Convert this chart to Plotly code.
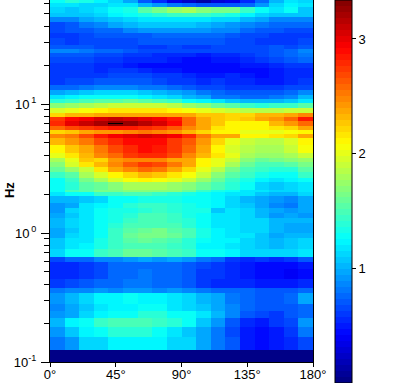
import plotly.graph_objects as go

angle_edges = list(range(0, 190, 10))
angle_ticks = [0, 45, 90, 135, 180]
angle_labels = ["0°", "45°", "90°", "135°", "180°"]
power_ticks = [1, 2, 3]
power_max = 3.34
freq_ticks = [0.1, 1, 10]
freq_labels = ["10<sup>-1</sup>", "10<sup>\u20090</sup>", "10<sup>\u20091</sup>"]
freq_minor = [0.2, 0.3, 0.4, 0.5, 0.6, 0.7, 0.8, 0.9, 2, 3, 4, 5, 6, 7, 8, 9, 20, 30, 40, 50, 60]

freq_edges = [0.1, 0.125, 0.156, 0.1875, 0.219, 0.25, 0.281, 0.344, 0.375, 0.44, 0.53, 0.60, 0.656,
              0.755, 0.841, 0.919, 1.005, 1.098, 1.2, 1.312, 1.434, 1.568, 1.714, 1.942, 2.085, 2.161,
              2.49, 2.68, 2.98, 3.23, 3.56, 3.82, 4.18, 4.82, 5.46, 5.86, 6.29, 6.76, 7.0, 7.13, 7.39,
              7.93, 8.52, 9.31, 10.18, 10.93, 11.74, 12.83, 14.03, 15.89, 17.37, 18.99, 20.76, 23.09,
              24.8, 26.6, 28.6, 32.4, 35.4, 38.7, 43.1, 47.1, 50.6, 56.3, 60.5, 64]

power = [
 [.03]*18,
 [.83,.92,1.1,1.13,1.25,1.25,1.25,1.25,1.13,1.1,.95,.8,.7,.52,.42,.5,.55,.65],
 [.92,1.08,1.22,1.28,1.37,1.37,1.37,1.3,1.2,1.07,.95,.8,.65,.5,.45,.5,.6,.8],
 [1.0,1.25,1.3,1.43,1.5,1.5,1.5,1.42,1.37,1.27,1.05,.9,.72,.55,.52,.6,.65,.9],
 [.9,.95,1.1,1.25,1.3,1.3,1.37,1.37,1.3,1.27,1.2,1.0,.85,.7,.67,.62,.68,.75],
 [.85,.95,1.05,1.15,1.22,1.25,1.28,1.28,1.2,1.12,1.07,.98,.85,.75,.72,.7,.72,.78],
 [.9,1.0,1.1,1.22,1.22,1.28,1.25,1.25,1.18,1.1,1.02,.95,.82,.75,.72,.72,.75,.95],
 [.82,.85,.88,.9,.88,.9,.9,.88,.9,.88,.82,.78,.78,.78,.72,.7,.72,.75],
 [.6,.65,.68,.74,.76,.8,.8,.78,.74,.68,.6,.57,.53,.53,.5,.5,.5,.55],
 [.55,.57,.6,.66,.74,.78,.8,.78,.76,.68,.6,.6,.55,.52,.46,.42,.4,.46],
 [.53,.55,.6,.66,.76,.78,.78,.78,.78,.68,.66,.6,.55,.52,.46,.44,.46,.52],
 [.66,.74,.76,.88,.88,.93,.95,.92,.98,.92,.82,.74,.6,.56,.6,.56,.6,.7],
 [1.13,1.27,1.3,1.42,1.5,1.6,1.6,1.55,1.5,1.42,1.3,1.27,1.22,1.12,1.12,1.1,1.1,1.15],
 [1.05,1.2,1.25,1.35,1.42,1.5,1.5,1.48,1.42,1.37,1.25,1.22,1.17,1.12,1.05,1.0,1.05,1.1],
 [1.05,1.15,1.2,1.32,1.42,1.55,1.6,1.55,1.5,1.4,1.27,1.25,1.22,1.1,1.07,1.0,1.05,1.1],
 [.98,1.12,1.2,1.3,1.45,1.58,1.65,1.65,1.58,1.5,1.35,1.25,1.2,1.15,1.08,.98,1.0,1.0],
 [.98,1.08,1.18,1.27,1.45,1.55,1.6,1.62,1.55,1.5,1.32,1.22,1.15,1.12,1.1,1.0,.98,.98],
 [1.03,1.12,1.2,1.27,1.38,1.48,1.5,1.5,1.5,1.38,1.3,1.18,1.15,1.1,1.1,1.0,.95,.95],
 [1.02,1.12,1.2,1.3,1.35,1.42,1.5,1.5,1.45,1.4,1.3,1.2,1.2,1.12,1.1,1.0,1.0,1.0],
 [.95,1.05,1.15,1.28,1.32,1.4,1.48,1.48,1.42,1.35,1.3,1.18,1.17,1.1,1.0,.92,.95,.92],
 [.92,1.12,1.2,1.3,1.32,1.35,1.4,1.45,1.4,1.35,1.32,1.08,1.15,1.1,1.02,.95,.9,.98],
 [.9,.98,1.18,1.22,1.3,1.38,1.42,1.42,1.38,1.35,1.3,1.22,1.12,1.05,.95,.85,.82,.98],
 [1.0,1.02,1.05,1.12,1.3,1.3,1.35,1.35,1.32,1.3,1.28,1.25,1.12,1.02,.95,.9,.88,.98],
 [1.18,1.28,1.3,1.45,1.42,1.48,1.48,1.45,1.4,1.35,1.3,1.25,1.2,1.15,1.05,1.02,1.02,1.1],
 [1.3,1.5,1.55,1.65,1.65,1.7,1.72,1.72,1.68,1.58,1.45,1.35,1.28,1.2,1.18,1.1,1.1,1.2],
 [1.3,1.4,1.55,1.6,1.72,1.78,1.82,1.82,1.75,1.7,1.6,1.5,1.38,1.28,1.12,1.05,1.12,1.2],
 [1.3,1.45,1.65,1.8,1.95,2.05,2.1,2.05,2.0,1.9,1.75,1.6,1.45,1.32,1.25,1.2,1.22,1.3],
 [1.45,1.55,1.8,1.95,2.1,2.2,2.3,2.25,2.15,2.05,1.9,1.7,1.55,1.42,1.32,1.3,1.3,1.42],
 [1.6,1.75,1.9,2.15,2.35,2.5,2.6,2.55,2.4,2.2,2.0,1.85,1.65,1.5,1.45,1.4,1.4,1.55],
 [1.7,1.95,2.15,2.3,2.5,2.65,2.72,2.7,2.55,2.35,2.1,2.0,1.78,1.6,1.5,1.5,1.55,1.65],
 [1.8,2.0,2.25,2.2,2.45,2.5,2.5,2.5,2.4,2.35,2.1,2.02,1.9,1.68,1.6,1.65,1.68,1.75],
 [2.0,2.15,2.3,2.5,2.6,2.75,2.8,2.78,2.7,2.5,2.3,2.15,2.0,1.82,1.75,1.75,1.82,1.9],
 [2.1,2.25,2.4,2.55,2.7,2.8,2.9,2.85,2.75,2.6,2.35,2.1,1.95,1.85,1.8,1.8,1.9,2.05],
 [2.3,2.45,2.55,2.7,2.8,2.88,2.92,2.88,2.75,2.62,2.45,2.2,2.0,1.9,1.85,1.85,1.95,2.1],
 [2.5,2.55,2.7,2.85,2.95,3.0,3.05,3.0,2.95,2.8,2.55,2.4,2.35,2.1,2.1,2.15,2.2,2.35],
 [2.2,2.25,2.35,2.42,2.45,2.5,2.52,2.48,2.42,2.32,2.22,2.12,2.1,2.02,2.0,2.0,2.05,2.1],
 [2.6,2.7,2.75,2.8,2.85,2.85,2.8,2.75,2.65,2.5,2.35,2.15,2.12,2.1,2.1,2.15,2.2,2.35],
 [2.8,3.0,3.1,3.2,3.3,3.25,3.15,3.05,2.9,2.6,2.35,2.25,2.1,2.1,2.1,2.3,2.45,2.6],
 [2.8,3.0,3.1,3.2,3.34,3.25,3.15,3.05,2.9,2.6,2.35,2.25,2.1,2.1,2.1,2.3,2.45,2.6],
 [2.8,3.0,3.1,3.2,3.3,3.25,3.15,3.05,2.9,2.6,2.35,2.25,2.1,2.1,2.1,2.3,2.45,2.6],
 [2.75,2.9,2.95,3.05,3.1,3.05,3.0,2.95,2.85,2.6,2.35,2.25,2.2,2.25,2.4,2.45,2.6,2.85],
 [2.2,2.3,2.3,2.35,2.35,2.35,2.4,2.4,2.4,2.35,2.25,2.25,2.2,2.2,2.3,2.3,2.4,2.5],
 [1.95,2.0,2.05,2.1,2.15,2.15,2.18,2.15,2.1,2.05,2.0,1.95,1.9,1.85,1.85,1.85,1.9,1.9],
 [1.7,1.75,1.8,1.85,1.9,1.9,1.92,1.88,1.85,1.75,1.7,1.6,1.55,1.45,1.4,1.42,1.45,1.55],
 [1.4,1.45,1.5,1.55,1.55,1.58,1.55,1.5,1.42,1.3,1.25,1.15,1.05,1.0,1.0,1.02,1.05,1.2],
 [1.2,1.25,1.3,1.3,1.3,1.3,1.25,1.2,1.1,1.0,.95,.8,.8,.75,.75,.8,.88,1.0],
 [.95,1.0,1.05,1.1,1.1,1.1,1.08,1.0,.95,.9,.82,.75,.72,.72,.7,.72,.78,.87],
 [.75,.77,.82,.84,.84,.86,.82,.8,.75,.7,.66,.64,.6,.58,.58,.6,.63,.66],
 [.62,.65,.67,.7,.72,.7,.7,.67,.62,.58,.56,.58,.56,.54,.5,.5,.56,.58],
 [.6,.58,.62,.62,.64,.66,.64,.62,.58,.56,.5,.5,.56,.48,.45,.48,.54,.55],
 [.62,.6,.58,.54,.58,.6,.56,.5,.48,.45,.42,.42,.46,.42,.44,.48,.55,.55],
 [.6,.6,.58,.56,.54,.5,.46,.46,.45,.42,.42,.45,.46,.47,.5,.56,.58,.62],
 [.66,.65,.66,.58,.58,.54,.54,.53,.5,.46,.46,.5,.5,.55,.6,.65,.72,.75],
 [.72,.72,.7,.65,.65,.62,.58,.56,.57,.53,.52,.57,.57,.58,.64,.68,.78,.82],
 [.85,.85,.82,.78,.74,.68,.66,.64,.64,.65,.65,.65,.67,.67,.67,.7,.76,.86],
 [.68,.68,.68,.66,.64,.64,.6,.6,.63,.6,.6,.63,.63,.63,.65,.68,.66,.68],
 [.64,.62,.64,.64,.64,.66,.68,.68,.68,.68,.68,.68,.64,.64,.6,.6,.6,.64],
 [.6,.58,.64,.68,.68,.72,.72,.75,.76,.78,.78,.78,.72,.66,.64,.6,.58,.6],
 [.66,.68,.72,.76,.78,.84,.9,.9,.93,.93,.9,.86,.84,.76,.7,.68,.64,.64],
 [.66,.68,.8,.86,.95,1.03,1.06,1.08,1.08,1.05,1.03,.98,.92,.86,.82,.75,.75,.75],
 [.85,.88,.95,1.02,1.07,1.12,1.15,1.17,1.2,1.2,1.17,1.14,1.1,1.02,.95,.86,.86,.88],
 [1.05,1.05,1.05,1.1,1.22,1.28,1.35,1.4,1.42,1.42,1.42,1.38,1.32,1.25,1.12,1.05,1.05,1.05],
 [1.12,1.08,1.12,1.15,1.28,1.35,1.55,1.65,1.75,1.78,1.72,1.62,1.62,1.42,1.28,1.15,1.28,1.05],
 [1.2,1.15,1.1,1.1,1.18,1.18,1.0,.9,.8,.75,.72,.7,.7,.75,.9,1.1,1.25,1.2],
 [1.3,1.4,1.35,1.25,1.1,.95,.7,.55,.35,.22,.12,.28,.35,.55,.78,1.0,1.15,1.1],
]


def jet(t):
    def ch(c):
        return round(255 * max(0.0, min(1.0, 1.5 - abs(4 * t - c))))
    return f"rgb({ch(3)},{ch(2)},{ch(1)})"


levels = 64
scale = []
for i in range(levels):
    a, b = i / levels, (i + 1) / levels
    c = jet((i + 0.5) / levels)
    if i == levels - 1:
        b = 0.9995
    scale += [[a, c], [b, c]]
scale += [[0.9995, "black"], [1.0, "black"]]

font = "Liberation Sans, Arial, sans-serif"
fig = go.Figure(go.Heatmap(
    x=angle_edges, y=freq_edges, z=power, zmin=0, zmax=power_max,
    colorscale=scale, zsmooth=False, hoverinfo="skip",
    colorbar=dict(
        x=1.0837, xanchor="left", xpad=0, y=1, yanchor="top", ypad=0,
        thickness=17, thicknessmode="pixels", len=383, lenmode="pixels",
        outlinecolor="black", outlinewidth=1,
        tickmode="array", tickvals=power_ticks, ticktext=[str(v) for v in power_ticks],
        ticks="outside", ticklen=4, tickwidth=1, tickcolor="black",
        tickfont=dict(family=font, size=13, color="black"),
    ),
))
fig.update_layout(
    width=418, height=383, autosize=False,
    margin=dict(l=50, r=105, t=0, b=21, pad=0, autoexpand=False),
    paper_bgcolor="white", plot_bgcolor="white", showlegend=False,
    font=dict(family=font, size=13, color="black"),
    xaxis=dict(range=[0, 180], tickmode="array", tickvals=angle_ticks, ticktext=angle_labels,
               ticks="outside", ticklen=4, tickwidth=1, tickcolor="black",
               showline=True, linecolor="black", linewidth=1, mirror=True, showgrid=False,
               zeroline=False, tickangle=0, tickfont=dict(size=13), ticklabelstandoff=-4),
    yaxis=dict(type="log", range=[-1, 1.8062], tickmode="array", tickvals=freq_ticks, ticktext=freq_labels,
               ticks="outside", ticklen=8, tickwidth=1, tickcolor="black",
               minor=dict(ticks="outside", ticklen=5, tickwidth=1, tickcolor="black",
                          tickmode="array", tickvals=freq_minor, showgrid=False),
               showline=True, linecolor="black", linewidth=1, mirror=True, showgrid=False,
               zeroline=False, tickfont=dict(size=13), ticklabelstandoff=2),
    annotations=[dict(text="<b>Hz</b>", xref="paper", yref="paper", x=-0.156, y=0.475,
                      xanchor="center", yanchor="middle",
                      textangle=-90, showarrow=False, font=dict(size=13, color="black"))],
)
fig.write_html("out.html", config={"displayModeBar": False},
               post_script="document.body.style.margin='0';document.body.style.overflow='hidden';")
